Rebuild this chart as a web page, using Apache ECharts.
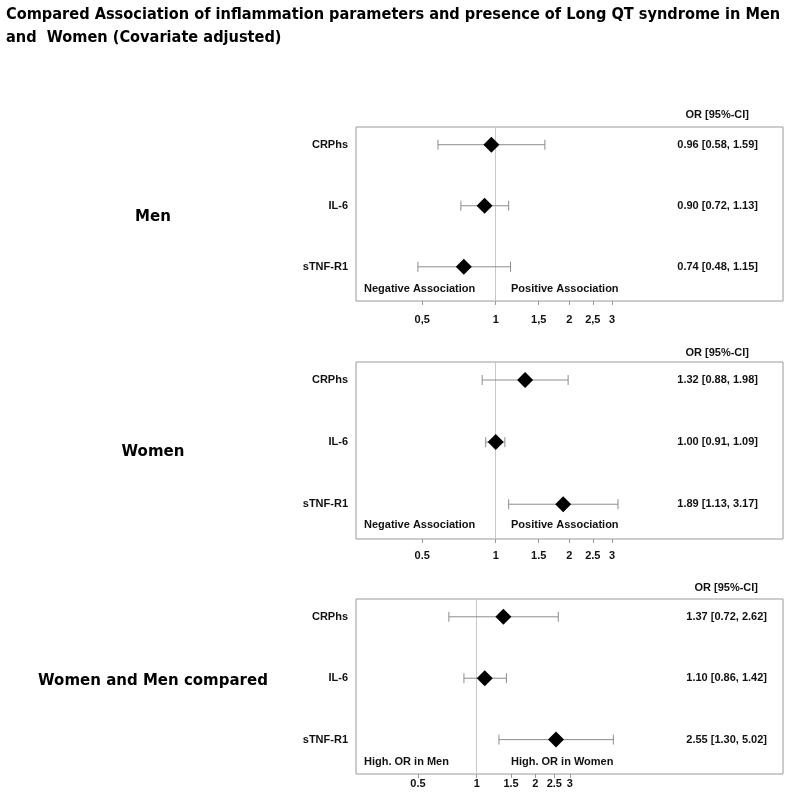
<!DOCTYPE html>
<html>
<head>
<meta charset="utf-8">
<script src="https://cdn.jsdelivr.net/npm/echarts@6/dist/echarts.min.js"></script>
<style>
  html, body { margin: 0; padding: 0; background: #fff; }
  #main { width: 795px; height: 802px; }
</style>
</head>
<body>
<div id="main"></div>
<script>
// rows, top to bottom
const markers = ["CRPhs", "IL-6", "sTNF-R1"];

// odds ratios and 95% CI per panel
const menOR = [0.96, 0.90, 0.74];
const menLo = [0.58, 0.72, 0.48];
const menHi = [1.59, 1.13, 1.15];

const womenOR = [1.32, 1.00, 1.89];
const womenLo = [0.88, 0.91, 1.13];
const womenHi = [1.98, 1.09, 3.17];

const compOR = [1.37, 1.10, 2.55];
const compLo = [0.72, 0.86, 1.30];
const compHi = [2.62, 1.42, 5.02];

const tickValues = [0.5, 1, 1.5, 2, 2.5, 3];
const tickLabelsComma = ["0,5", "1", "1,5", "2", "2,5", "3"];
const tickLabelsDot = ["0.5", "1", "1.5", "2", "2.5", "3"];

const panelNames = ["Men", "Women", "Women and Men compared"];
const leftLabels = [
  ["Negative Association", "Positive Association"],
  ["Negative Association", "Positive Association"],
  ["High. OR in Men", "High. OR in Women"],
];

const ARIAL = '"Liberation Sans", Arial, sans-serif';
const TAHOMA = '"DejaVu Sans", Verdana, sans-serif';

const panels = [
  { or: menOR, lo: menLo, hi: menHi, ticks: tickLabelsComma,
    top: 127, height: 174, xmin: 0.2677, xmax: 15.03, labMargin: 13, rMargin: 25 },
  { or: womenOR, lo: womenLo, hi: womenHi, ticks: tickLabelsDot,
    top: 362, height: 177, xmin: 0.2677, xmax: 15.03, labMargin: 11, rMargin: 25 },
  { or: compOR, lo: compLo, hi: compHi, ticks: tickLabelsDot,
    top: 599, height: 175, xmin: 0.2405, xmax: 37.2, labMargin: 4, rMargin: 16 },
];

const fmt = (or, lo, hi) => `${or.toFixed(2)} [${lo.toFixed(2)}, ${hi.toFixed(2)}]`;

const grid = [], xAxis = [], yAxis = [], series = [];

panels.forEach((p, k) => {
  grid.push({
    left: 356, right: 12, top: p.top, height: p.height,
    show: true, borderColor: "#9a9a9a", borderWidth: 1,
  });
  xAxis.push({
    gridIndex: k, type: "log", min: p.xmin, max: p.xmax,
    axisLine: { show: false, onZero: false },
    splitLine: { show: false },
    axisTick: {
      show: true, length: 4, customValues: tickValues,
      lineStyle: { color: "#9a9a9a" },
    },
    axisLabel: {
      customValues: tickValues, margin: p.labMargin,
      fontFamily: ARIAL, fontWeight: "bold", fontSize: 11, color: "#111",
      formatter: (v) => {
        const i = tickValues.findIndex((t) => Math.abs(t - v) < 1e-6);
        return i >= 0 ? p.ticks[i] : "";
      },
    },
  });
  yAxis.push({
    gridIndex: k, type: "value", inverse: true, min: -0.29, max: 2.56,
    axisLine: { show: false }, axisTick: { show: false }, splitLine: { show: false },
    axisLabel: {
      customValues: [0, 1, 2], margin: 8,
      fontFamily: ARIAL, fontWeight: "bold", fontSize: 11, color: "#111",
      formatter: (v) => markers[Math.round(v)],
    },
  });
  yAxis.push({
    gridIndex: k, type: "value", position: "right", inverse: true, min: -0.29, max: 2.56,
    axisLine: { show: false }, axisTick: { show: false }, splitLine: { show: false },
    axisLabel: {
      inside: true, customValues: [0, 1, 2], margin: p.rMargin,
      fontFamily: ARIAL, fontWeight: "bold", fontSize: 11, color: "#111",
      formatter: (v) => { const i = Math.round(v); return fmt(p.or[i], p.lo[i], p.hi[i]); },
    },
  });

  series.push({
    type: "custom", xAxisIndex: k, yAxisIndex: 2 * k, z: 3,
    encode: { x: [0, 1], y: 2 },
    data: p.lo.map((lo, i) => [lo, p.hi[i], i]),
    renderItem(params, api) {
      const y = api.value(2);
      const a = api.coord([api.value(0), y]);
      const b = api.coord([api.value(1), y]);
      const h = 5;
      const st = { stroke: "#8c8c8c", lineWidth: 1 };
      return {
        type: "group",
        children: [
          { type: "line", shape: { x1: a[0], y1: a[1], x2: b[0], y2: b[1] }, style: st },
          { type: "line", shape: { x1: a[0], y1: a[1] - h, x2: a[0], y2: a[1] + h }, style: st },
          { type: "line", shape: { x1: b[0], y1: b[1] - h, x2: b[0], y2: b[1] + h }, style: st },
        ],
      };
    },
  });
  series.push({
    type: "scatter", xAxisIndex: k, yAxisIndex: 2 * k, z: 5,
    symbol: "diamond", symbolSize: [16, 16],
    itemStyle: { color: "#000", opacity: 1 },
    data: p.or.map((v, i) => [v, i]),
    markLine: {
      silent: true, symbol: "none", z: 1,
      label: { show: false },
      lineStyle: { color: "#c8c8c8", type: "solid", width: 1 },
      data: [{ xAxis: 1 }],
    },
  });
});

const graphic = [];
const headerY = [115, 353, 588];
const headerRight = [749, 749, 758];
const nameY = [217, 452, 681];
const assocY = [289, 525, 762];
panels.forEach((p, k) => {
  graphic.push({
    type: "text", x: headerRight[k], y: headerY[k],
    style: { text: "OR [95%-CI]", font: `bold 11px ${ARIAL}`, fill: "#111",
      textAlign: "right", textVerticalAlign: "middle" },
  });
  graphic.push({
    type: "text", x: 153, y: nameY[k],
    style: { text: panelNames[k], font: `bold 15px ${TAHOMA}`, fill: "#000",
      textAlign: "center", textVerticalAlign: "middle" },
  });
  graphic.push({
    type: "text", x: 364, y: assocY[k],
    style: { text: leftLabels[k][0], font: `bold 11px ${ARIAL}`, fill: "#111",
      textVerticalAlign: "middle" },
  });
  graphic.push({
    type: "text", x: 511, y: assocY[k],
    style: { text: leftLabels[k][1], font: `bold 11px ${ARIAL}`, fill: "#111",
      textVerticalAlign: "middle" },
  });
});

const chart = echarts.init(document.getElementById("main"));
chart.setOption({
  animation: false,
  backgroundColor: "#fff",
  title: {
    text: "Compared Association of inflammation parameters and presence of Long QT syndrome in Men\nand  Women (Covariate adjusted)",
    left: 6, top: 3, padding: 0,
    textStyle: { fontFamily: '"DejaVu Sans Condensed", "DejaVu Sans", sans-serif',
      fontWeight: "bold", fontSize: 16.2, lineHeight: 23, color: "#000" },
  },
  grid, xAxis, yAxis, series, graphic,
});
</script>
</body>
</html>
